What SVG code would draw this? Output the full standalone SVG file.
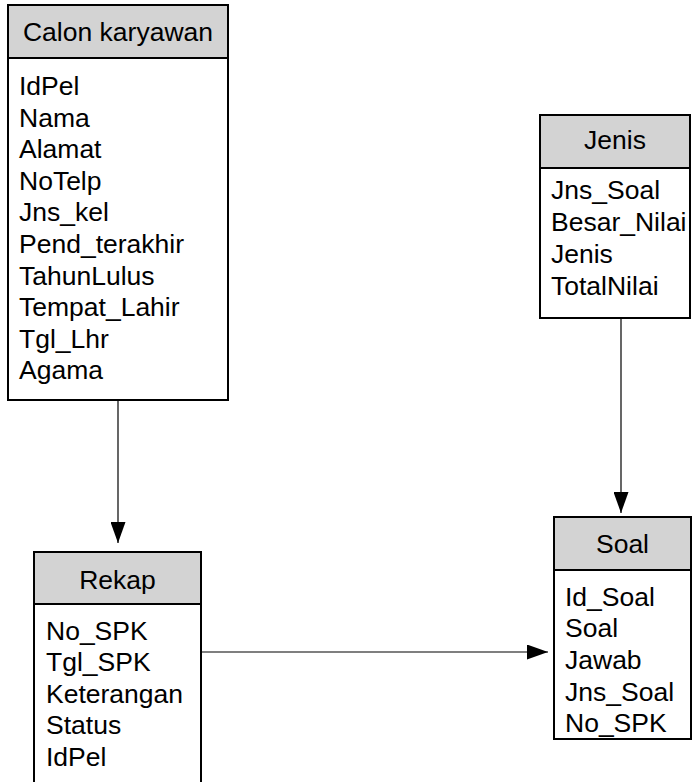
<svg xmlns="http://www.w3.org/2000/svg" width="696" height="782" viewBox="0 0 696 782">
<style>
.box{fill:#ffffff;stroke:#000000;stroke-width:2}
.hdr{fill:#d3d3d3;stroke:#000000;stroke-width:2}
text{font-family:"Liberation Sans",Arial,sans-serif;font-size:26.5px;fill:#000000}
.t{text-anchor:middle}
.edge{stroke:#000000;stroke-width:1.2;fill:none;marker-end:url(#arr)}
</style>
<defs>
<marker id="arr" viewBox="0 0 21 15" refX="21" refY="7.5" markerWidth="21" markerHeight="15" markerUnits="userSpaceOnUse" orient="auto">
<path d="M0,0 L21,7.5 L0,15 z" fill="#000000"/>
</marker>
</defs>
<g id="connectors">
<line class="edge" x1="118" y1="400" x2="118" y2="543"/>
<line class="edge" x1="621" y1="318" x2="621" y2="513"/>
<line class="edge" x1="201" y1="652" x2="548" y2="652"/>
</g>
<g id="calon">
<rect class="box" x="8" y="5" width="220" height="395"/>
<rect class="hdr" x="8" y="5" width="220" height="53"/>
<text class="t" x="118" y="41">Calon karyawan</text>
<text x="19" y="95">IdPel</text>
<text x="19" y="126.6">Nama</text>
<text x="19" y="158.2">Alamat</text>
<text x="19" y="189.8">NoTelp</text>
<text x="19" y="221.4">Jns_kel</text>
<text x="19" y="253">Pend_terakhir</text>
<text x="19" y="284.6">TahunLulus</text>
<text x="19" y="316.2">Tempat_Lahir</text>
<text x="19" y="347.8">Tgl_Lhr</text>
<text x="19" y="379.4">Agama</text>
</g>
<g id="jenis">
<rect class="box" x="540" y="115" width="150" height="203"/>
<rect class="hdr" x="540" y="115" width="150" height="53"/>
<text class="t" x="615" y="149">Jenis</text>
<text x="551" y="199">Jns_Soal</text>
<text x="551" y="231">Besar_Nilai</text>
<text x="551" y="263">Jenis</text>
<text x="551" y="295">TotalNilai</text>
</g>
<g id="rekap">
<rect class="box" x="34" y="552" width="167" height="240"/>
<rect class="hdr" x="34" y="552" width="167" height="52"/>
<text class="t" x="117.5" y="589">Rekap</text>
<text x="46" y="640">No_SPK</text>
<text x="46" y="671">Tgl_SPK</text>
<text x="46" y="703">Keterangan</text>
<text x="46" y="734">Status</text>
<text x="46" y="766">IdPel</text>
</g>
<g id="soal">
<rect class="box" x="554" y="517" width="137" height="222"/>
<rect class="hdr" x="554" y="517" width="137" height="53"/>
<text class="t" x="622.5" y="553">Soal</text>
<text x="565" y="606">Id_Soal</text>
<text x="565" y="637">Soal</text>
<text x="565" y="669">Jawab</text>
<text x="565" y="701">Jns_Soal</text>
<text x="565" y="732">No_SPK</text>
</g>
</svg>
